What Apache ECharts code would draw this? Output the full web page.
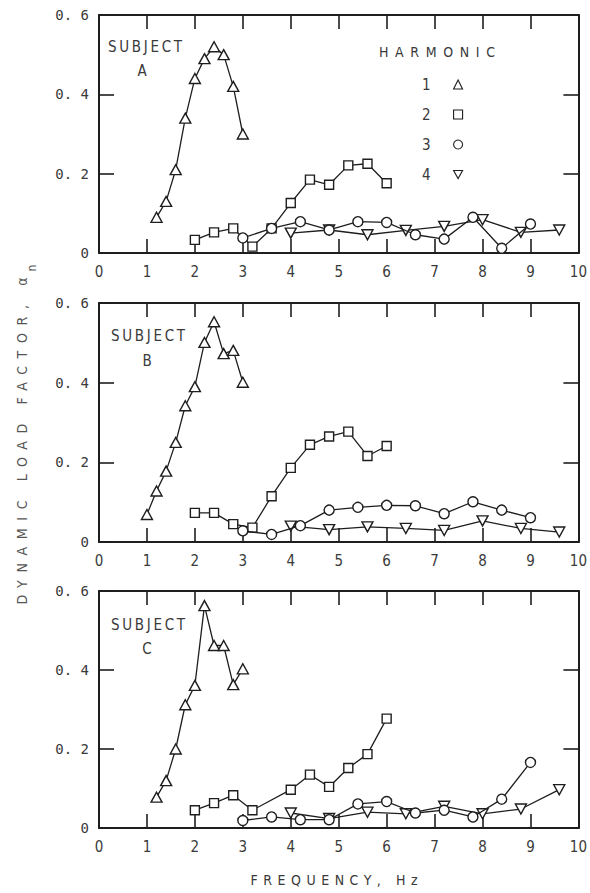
<!DOCTYPE html>
<html>
<head>
<meta charset="utf-8">
<script src="https://cdn.jsdelivr.net/npm/echarts@6/dist/echarts.min.js"></script>
<style>
html,body{margin:0;padding:0;background:#fff;}
#chart{width:590px;height:893px;}
</style>
</head>
<body>
<div id="chart"></div>
<script>
// ---------- data (frequency in Hz, dynamic load factor) ----------
// Subject A
const freqA1 = [1.2,1.4,1.6,1.8,2.0,2.2,2.4,2.6,2.8,3.0];
const dlfA1  = [0.09,0.13,0.21,0.34,0.44,0.49,0.52,0.50,0.42,0.30];
const freqA2 = [2.0,2.4,2.8,3.2,3.6,4.0,4.4,4.8,5.2,5.6,6.0];
const dlfA2  = [0.033,0.052,0.062,0.016,0.062,0.126,0.185,0.172,0.221,0.225,0.176];
const freqA3 = [3.0,3.6,4.2,4.8,5.4,6.0,6.6,7.2,7.8,8.4,9.0];
const dlfA3  = [0.038,0.062,0.079,0.058,0.079,0.077,0.046,0.035,0.090,0.012,0.073];
const freqA4 = [4.0,4.8,5.6,6.4,7.2,8.0,8.8,9.6];
const dlfA4  = [0.050,0.058,0.046,0.057,0.067,0.084,0.052,0.058];
// Subject B
const freqB1 = [1.0,1.2,1.4,1.6,1.8,2.0,2.2,2.4,2.6,2.8,3.0];
const dlfB1  = [0.069,0.128,0.178,0.250,0.342,0.390,0.501,0.553,0.473,0.481,0.401];
const freqB2 = [2.0,2.4,2.8,3.2,3.6,4.0,4.4,4.8,5.2,5.6,6.0];
const dlfB2  = [0.073,0.073,0.045,0.036,0.115,0.186,0.244,0.265,0.277,0.216,0.241];
const freqB3 = [3.0,3.6,4.2,4.8,5.4,6.0,6.6,7.2,7.8,8.4,9.0];
const dlfB3  = [0.028,0.019,0.041,0.080,0.087,0.092,0.091,0.071,0.101,0.080,0.061];
const freqB4 = [4.0,4.8,5.6,6.4,7.2,8.0,8.8,9.6];
const dlfB4  = [0.040,0.031,0.038,0.034,0.029,0.053,0.034,0.025];
// Subject C
const freqC1 = [1.2,1.4,1.6,1.8,2.0,2.2,2.4,2.6,2.8,3.0];
const dlfC1  = [0.078,0.120,0.200,0.312,0.361,0.563,0.462,0.462,0.363,0.403];
const freqC2 = [2.0,2.4,2.8,3.2,4.0,4.4,4.8,5.2,5.6,6.0];
const dlfC2  = [0.045,0.063,0.083,0.045,0.097,0.135,0.104,0.152,0.187,0.277];
const freqC3 = [3.0,3.6,4.2,4.8,5.4,6.0,6.6,7.2,7.8,8.4,9.0];
const dlfC3  = [0.019,0.028,0.021,0.021,0.061,0.067,0.038,0.045,0.028,0.073,0.166];
const freqC4 = [4.0,4.8,5.6,6.4,7.2,8.0,8.8,9.6];
const dlfC4  = [0.038,0.024,0.040,0.036,0.055,0.036,0.048,0.097];

const harmonics = ['1','2','3','4'];
const subjects = ['A','B','C'];
const xTickLabels = ['0','1','2','3','4','5','6','7','8','9','10'];
const yTickLabels = ['0','0. 2','0. 4','0. 6'];

// ---------- styling ----------
const SANS = "'DejaVu Sans Condensed','Liberation Sans Narrow','Roboto Condensed','DejaVu Sans',sans-serif";
const MONO = "'DejaVu Sans Mono','Liberation Mono',monospace";
const TXT = '#3a3a3a';
const LINE = '#1e1e1e';

const panels = [
  {grid:{left:99, width:480, top:15,  height:238}, data:[[freqA1,dlfA1],[freqA2,dlfA2],[freqA3,dlfA3],[freqA4,dlfA4]]},
  {grid:{left:99, width:480, top:303, height:239}, data:[[freqB1,dlfB1],[freqB2,dlfB2],[freqB3,dlfB3],[freqB4,dlfB4]]},
  {grid:{left:99, width:480, top:591, height:237}, data:[[freqC1,dlfC1],[freqC2,dlfC2],[freqC3,dlfC3],[freqC4,dlfC4]]}
];

const symbols = [
  {symbol:'triangle', size:[11,10], rot:0, z:2},
  {symbol:'rect', size:9, rot:0, z:2},
  {symbol:'circle', size:10, rot:0, z:3},
  {symbol:'triangle', size:[11,10], rot:180, z:1}
];

const grid = [], xAxis = [], yAxis = [], series = [];
panels.forEach((p, g) => {
  grid.push(Object.assign({containLabel:false}, p.grid));
  const xBase = {
    gridIndex:g, type:'value', min:0, max:10, interval:1,
    axisLine:{show:true, onZero:false, lineStyle:{color:LINE, width:2}},
    axisTick:{show:true, inside:true, length:14, lineStyle:{color:LINE, width:1.6}},
    splitLine:{show:false}
  };
  xAxis.push(Object.assign({}, xBase, {
    position:'bottom',
    axisLabel:{show:true, color:TXT, fontFamily:SANS, fontSize:15, margin:11,
      formatter: v => xTickLabels[Math.round(v)]}
  }));
  xAxis.push(Object.assign({}, xBase, {position:'top', axisLabel:{show:false}}));
  const yBase = {
    gridIndex:g, type:'value', min:0, max:0.6, interval:0.2,
    axisLine:{show:true, onZero:false, lineStyle:{color:LINE, width:2}},
    axisTick:{show:true, inside:true, length:15, lineStyle:{color:LINE, width:1.6}},
    splitLine:{show:false}
  };
  yAxis.push(Object.assign({}, yBase, {
    position:'left',
    axisLabel:{show:true, color:TXT, fontFamily:MONO, fontSize:14, margin:10,
      formatter: v => yTickLabels[Math.round(v*5)]}
  }));
  yAxis.push(Object.assign({}, yBase, {position:'right', axisLabel:{show:false}}));

  p.data.forEach((d, h) => {
    const s = symbols[h];
    series.push({
      name: harmonics[h], type:'line',
      xAxisIndex: 2*g, yAxisIndex: 2*g, z: s.z,
      data: d[0].map((x,i) => [x, d[1][i]]),
      symbol: s.symbol, symbolSize: s.size, symbolRotate: s.rot,
      showAllSymbol: true, silent: true,
      lineStyle:{color:LINE, width:1.3},
      itemStyle:{color:'#fff', borderColor:LINE, borderWidth:1.4},
      emphasis:{disabled:true}
    });
  });
});

const graphic = [];
const subjPos = [[145,47,142,71],[148,336,147,361],[148,625,147,649]];
subjects.forEach((s, i) => {
  const q = subjPos[i];
  graphic.push({type:'text', x:q[0], y:q[1], silent:true,
    style:{text:'SUBJECT', textAlign:'center', textVerticalAlign:'middle', font:'15px '+SANS, fill:TXT}});
  graphic.push({type:'text', x:q[2], y:q[3], silent:true,
    style:{text:s, textAlign:'center', textVerticalAlign:'middle', font:'15px '+SANS, fill:TXT}});
});
graphic.push({type:'text', x:437, y:52, silent:true,
  style:{text:'HARMONIC', textAlign:'center', textVerticalAlign:'middle', font:'14px '+SANS, fill:TXT}});
graphic.push({type:'text', x:334, y:880, silent:true,
  style:{text:'FREQUENCY, Hz', textAlign:'center', textVerticalAlign:'middle', font:'14px '+SANS, fill:TXT}});
graphic.push({type:'text', x:22, y:441, rotation:Math.PI/2, silent:true,
  style:{text:'DYNAMIC LOAD FACTOR, α', textAlign:'center', textVerticalAlign:'middle', font:'14px '+SANS, fill:'#555'}});
graphic.push({type:'text', x:32, y:268, rotation:Math.PI/2, silent:true,
  style:{text:'n', textAlign:'center', textVerticalAlign:'middle', font:'12px '+SANS, fill:'#555'}});

const option = {
  animation:false,
  backgroundColor:'#fff',
  grid, xAxis, yAxis, series, graphic,
  legend:{
    show:true, orient:'vertical', left:417, top:72, align:'right',
    itemWidth:9, itemHeight:9, itemGap:15, selectedMode:false,
    itemStyle:{borderWidth:1.1},
    textStyle:{color:TXT, fontFamily:SANS, fontSize:15, padding:[0,18,0,0]},
    data:[
      {name:'1', icon:'triangle'},
      {name:'2', icon:'rect'},
      {name:'3', icon:'circle'},
      {name:'4', icon:'path://M0,0L10,0L5,9Z'}
    ]
  }
};

const chart = echarts.init(document.getElementById('chart'), null, {renderer:'svg'});
chart.setOption(option);

// spread letters of the typewriter-style captions to match the original widths
const SPREAD = {'SUBJECT':74, 'HARMONIC':116, 'FREQUENCY, Hz':167, 'DYNAMIC LOAD FACTOR, α':327};
function spread(){
  document.querySelectorAll('#chart svg text').forEach(t => {
    const w = SPREAD[t.textContent];
    if (!w) return;
    t.style.letterSpacing = '0px';
    const L = t.getComputedTextLength();
    const n = t.textContent.length;
    const ls = (w - L) / (n - 1);
    t.style.letterSpacing = ls + 'px';
    t.setAttribute('dx', (ls/2).toFixed(2));
  });
}
spread();
chart.on('finished', spread);
</script>
</body>
</html>
